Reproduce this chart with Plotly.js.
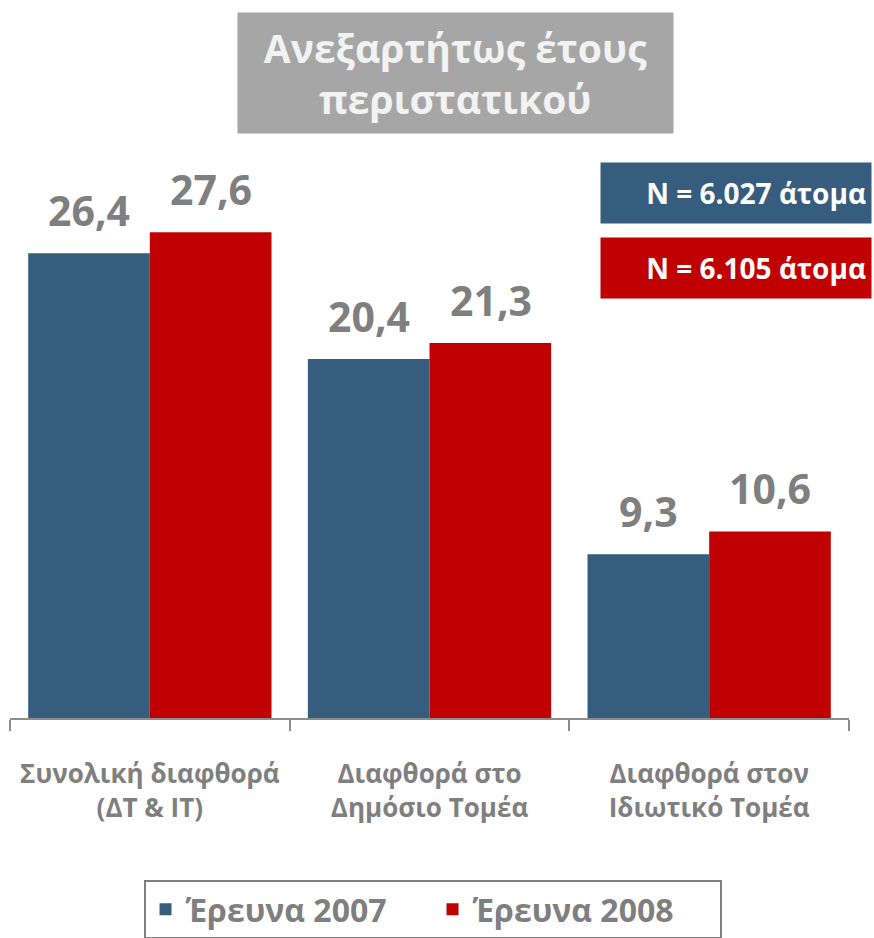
<!DOCTYPE html>
<html>
<head>
<meta charset="utf-8">
<script src="https://cdn.plot.ly/plotly-3.0.1.min.js"></script>
<style>html,body{margin:0;padding:0;background:#fff;}#chart{width:874px;height:938px;}</style>
</head>
<body>
<div id="chart"></div>
<script>
const categories = ["Συνολική διαφθορά<br>(ΔΤ & ΙΤ)", "Διαφθορά στο<br>Δημόσιο Τομέα", "Διαφθορά στον<br>Ιδιωτικό Τομέα"];
const series2007 = [26.4, 20.4, 9.3];
const series2008 = [27.6, 21.3, 10.6];
const seriesNames = ["Έρευνα 2007", "Έρευνα 2008"];
const sampleLabels = ["N = 6.027 άτομα", "N = 6.105 άτομα"];
const titleText = "Ανεξαρτήτως έτους<br>περιστατικού";

const BLUE = "#375d7e", RED = "#c00000", GRAY = "#7f7f7f";
const FONT = "Open Sans, Noto Sans, sans-serif";
const fmt = v => v.toFixed(1).replace(".", ",");

const traces = [
  {type: "bar", name: seriesNames[0], x: categories, y: series2007, marker: {color: BLUE}, hoverinfo: "none"},
  {type: "bar", name: seriesNames[1], x: categories, y: series2008, marker: {color: RED}, hoverinfo: "none"}
];

const annotations = [];
[series2007, series2008].forEach((s, si) => {
  s.forEach((v, i) => {
    annotations.push({
      x: categories[i], y: v, xref: "x", yref: "y",
      text: fmt(v), showarrow: false,
      xshift: si === 0 ? -61 : 61, yshift: 13, yanchor: "bottom",
      font: {family: FONT, size: 41, color: GRAY, weight: 700}
    });
  });
});

annotations.push({
  xref: "paper", yref: "paper", x: 0.531, y: 1.2216, xanchor: "center", yanchor: "middle",
  text: titleText, showarrow: false, bgcolor: "#a6a6a6", borderpad: 0, width: 435, height: 120,
  font: {family: FONT, size: 39, color: "#f2f2f2", weight: 700}
});
[BLUE, RED].forEach((c, i) => {
  annotations.push({
    xref: "paper", yref: "paper", x: 0.8659, y: i === 0 ? 0.9943 : 0.8523, xanchor: "center", yanchor: "middle",
    text: sampleLabels[i], showarrow: false, bgcolor: c, borderpad: 5, width: 260, height: 50, align: "right",
    font: {family: FONT, size: 28, color: "#ffffff", weight: 700}
  });
});

const layout = {
  width: 874, height: 938,
  margin: {l: 10, r: 25, t: 190, b: 220, autoexpand: false},
  paper_bgcolor: "#ffffff", plot_bgcolor: "#ffffff",
  barmode: "group", bargap: 0.13, bargroupgap: 0,
  showlegend: true,
  legend: {
    orientation: "h", x: 0.5036, xanchor: "center", y: -0.3068, yanchor: "top",
    bordercolor: GRAY, borderwidth: 2, entrywidth: 242,
    font: {family: FONT, size: 32, color: GRAY, weight: 700}
  },
  xaxis: {
    type: "category", showline: true, linecolor: "#8c8c8c", linewidth: 2,
    ticks: "outside", tickson: "boundaries", ticklen: 11, tickcolor: "#8c8c8c", tickwidth: 2,
    ticklabelstandoff: 32,
    tickfont: {family: FONT, size: 26, color: GRAY, weight: 700},
    showgrid: false, zeroline: false
  },
  yaxis: {range: [0, 30], visible: false, showgrid: false, zeroline: false},
  annotations: annotations
};

Plotly.newPlot("chart", traces, layout, {displayModeBar: false, staticPlot: true});
</script>
</body>
</html>
